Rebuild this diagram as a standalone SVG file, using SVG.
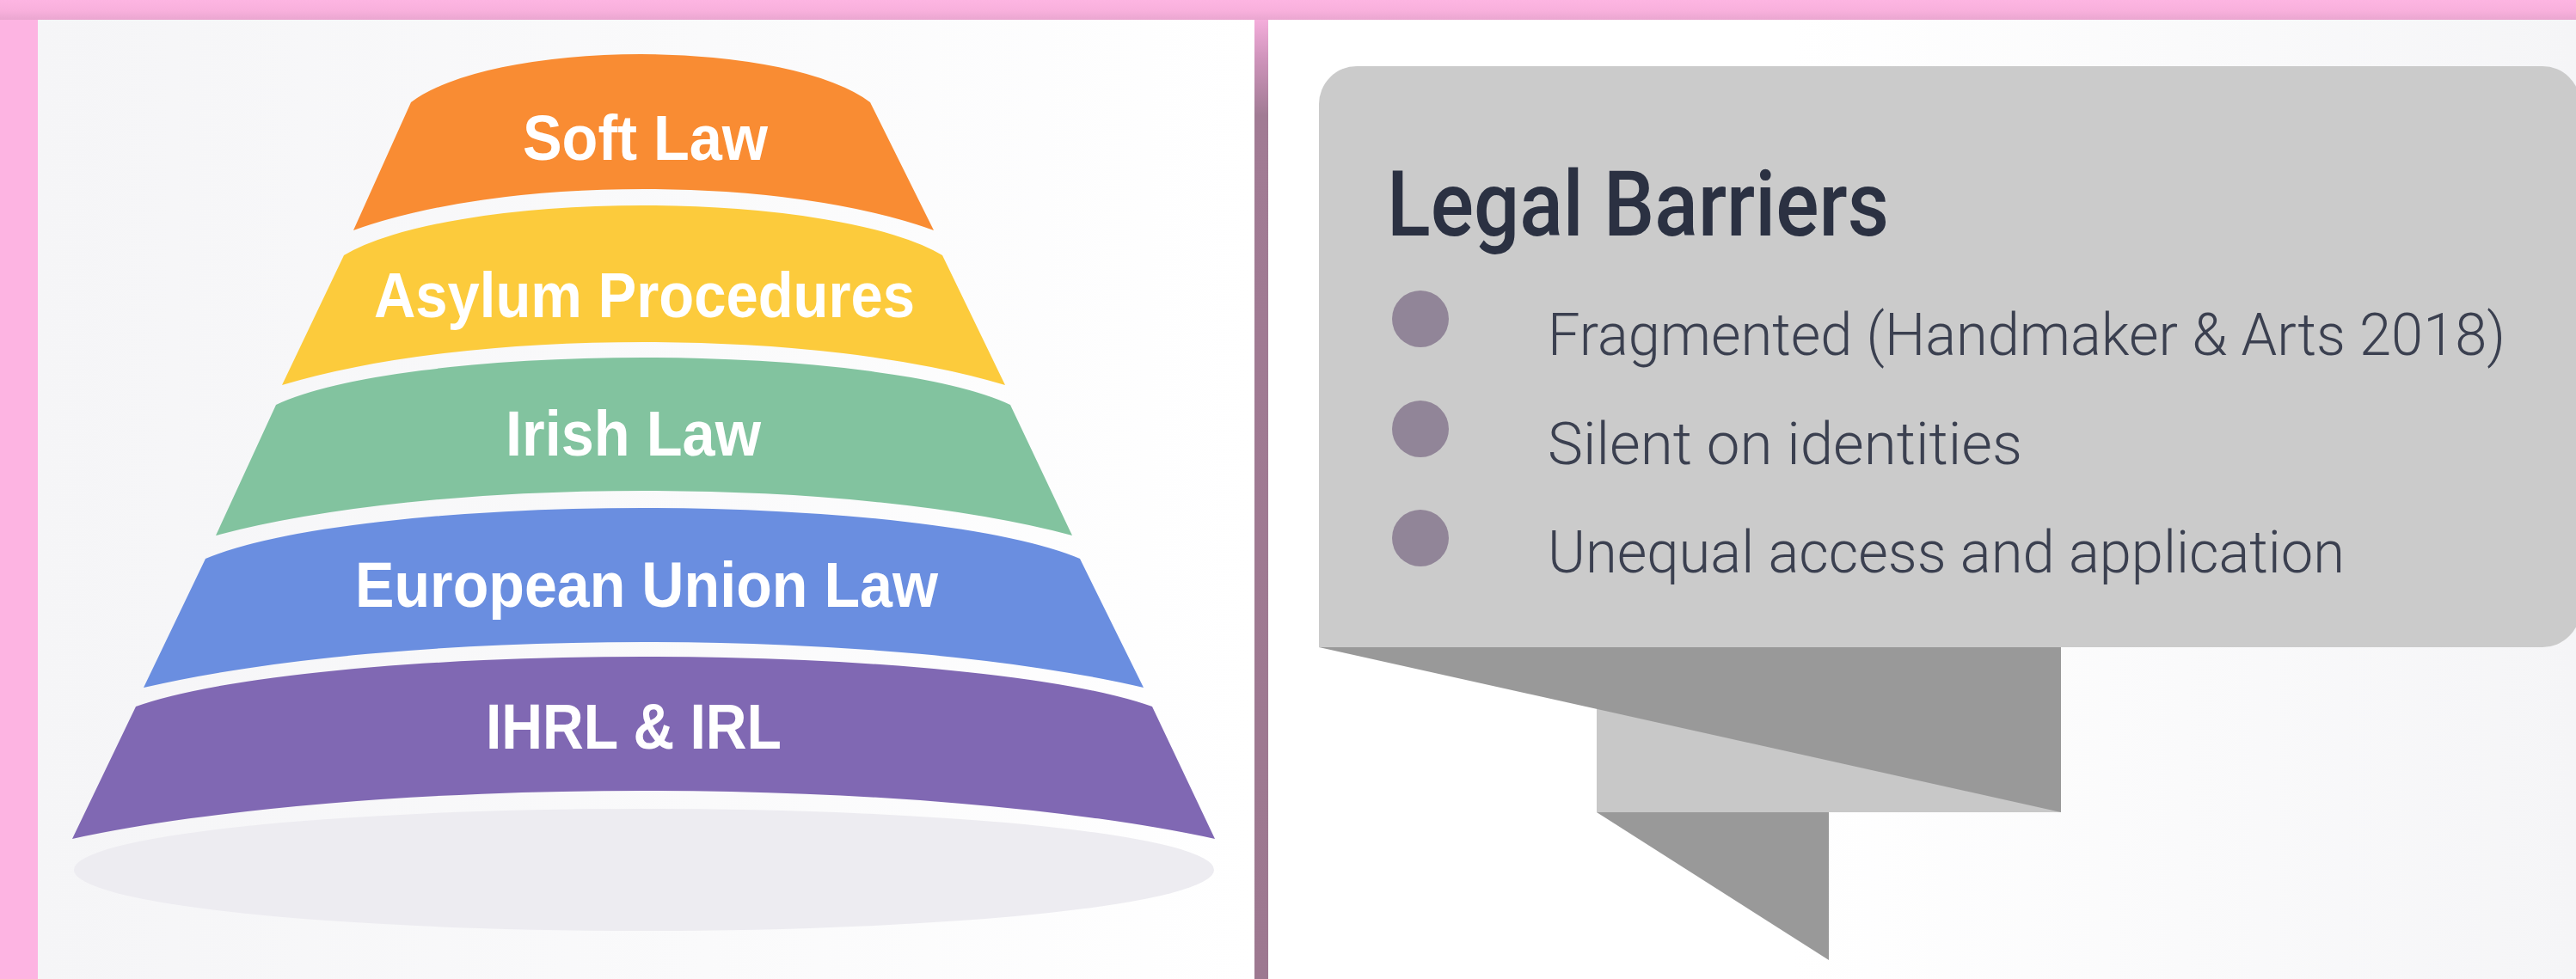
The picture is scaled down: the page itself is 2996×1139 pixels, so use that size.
<svg xmlns="http://www.w3.org/2000/svg" width="2996" height="1139" viewBox="0 0 2996 1139">
  <defs>
    <linearGradient id="topBand" x1="0" y1="0" x2="0" y2="1">
      <stop offset="0" stop-color="#fdb5e2"/>
      <stop offset="0.55" stop-color="#f8b0dc"/>
      <stop offset="1" stop-color="#eaa6d0"/>
    </linearGradient>
    <linearGradient id="leftPanel" x1="0" y1="0" x2="1" y2="0">
      <stop offset="0" stop-color="#f5f5f7"/>
      <stop offset="0.55" stop-color="#fafafb"/>
      <stop offset="1" stop-color="#ffffff"/>
    </linearGradient>
    <linearGradient id="rightPanel" x1="0" y1="0" x2="1" y2="0">
      <stop offset="0" stop-color="#ffffff"/>
      <stop offset="0.4" stop-color="#ffffff"/>
      <stop offset="1" stop-color="#f5f5f7"/>
    </linearGradient>
    <linearGradient id="divider" x1="0" y1="0" x2="0" y2="1">
      <stop offset="0" stop-color="#f4addb"/>
      <stop offset="0.04" stop-color="#cf94bb"/>
      <stop offset="0.1" stop-color="#a17b94"/>
      <stop offset="1" stop-color="#9d7890"/>
    </linearGradient>
    <style>
      .layer-label { font-family: "Liberation Sans", "Noto Sans", sans-serif; font-weight: 700; font-size: 74px; fill: #ffffff; }
      .title { font-family: Roboto, "Liberation Sans", sans-serif; font-weight: 500; font-size: 105px; fill: #2b3142; }
      .item { font-family: Roboto, "Liberation Sans", sans-serif; font-weight: 300; font-size: 68px; fill: #3b4050; }
      .bullet { fill: #918598; }
      .fold-dark { fill: #999999; }
      .fold-light { fill: #c8c8c8; }
    </style>
  </defs>

  <!-- frame and panels -->
  <rect x="0" y="0" width="2996" height="1139" fill="#fdb4e2"/>
  <rect x="0" y="0" width="2996" height="23" fill="url(#topBand)"/>
  <rect x="44" y="23" width="1415" height="1116" fill="url(#leftPanel)"/>
  <rect x="1459" y="23" width="16" height="1116" fill="url(#divider)"/>
  <rect x="1475" y="23" width="1521" height="1116" fill="url(#rightPanel)"/>

  <!-- pyramid: each band is a trapezoid with domed top and bottom edges -->
  <g id="pyramid">
    <ellipse id="pyramid-base" cx="749" cy="1012" rx="663" ry="71" fill="#edecf1"/>
    <g id="layer-ihrl">
      <path d="M84,976 L158,822 A636.5,92.2 0 0 1 1340,822 L1413,976 A863.9,155.4 0 0 0 84,976 Z" fill="#8068b3"/>
      <text class="layer-label" x="565" y="871" textLength="344" lengthAdjust="spacingAndGlyphs">IHRL &amp; IRL</text>
    </g>
    <g id="layer-eu">
      <path d="M167,800 L239,650 A547.7,93.8 0 0 1 1256,650 L1330,800 A756,147.1 0 0 0 167,800 Z" fill="#6a8ee0"/>
      <text class="layer-label" x="413" y="706" textLength="678" lengthAdjust="spacingAndGlyphs">European Union Law</text>
    </g>
    <g id="layer-irish">
      <path d="M251,623 L321,471 A459.9,87.5 0 0 1 1175,471 L1247,623 A647.4,144.3 0 0 0 251,623 Z" fill="#82c39f"/>
      <text class="layer-label" x="588" y="530" textLength="297" lengthAdjust="spacingAndGlyphs">Irish Law</text>
    </g>
    <g id="layer-asylum">
      <path d="M328,448 L400,297 A374.8,92.2 0 0 1 1096,297 L1169,448 A546.7,138.8 0 0 0 328,448 Z" fill="#fccb3c"/>
      <text class="layer-label" x="435" y="369" textLength="629" lengthAdjust="spacingAndGlyphs">Asylum Procedures</text>
    </g>
    <g id="layer-soft">
      <path d="M411,268 L478,119 A287.6,89 0 0 1 1012,119 L1086,268 A438.8,133.2 0 0 0 411,268 Z" fill="#f98c33"/>
      <text class="layer-label" x="608" y="186" textLength="285" lengthAdjust="spacingAndGlyphs">Soft Law</text>
    </g>
  </g>

  <!-- callout with folded ribbon tail -->
  <g id="legal-barriers">
    <rect class="fold-light" x="1857" y="753" width="540" height="192"/>
    <polygon class="fold-dark" points="1534,753 2397,753 2397,945"/>
    <polygon class="fold-dark" points="1857,945 2127,945 2127,1117"/>
    <path d="M1534,121 A44,44 0 0 1 1578,77 L2957,77 A44,44 0 0 1 3001,121 L3001,709 A44,44 0 0 1 2957,753 L1534,753 Z" fill="#cbcbcb"/>
    <text class="title" x="1613" y="274" textLength="584" lengthAdjust="spacingAndGlyphs">Legal Barriers</text>
    <circle class="bullet" cx="1652" cy="371" r="33"/>
    <text class="item" x="1800" y="413" textLength="1114" lengthAdjust="spacingAndGlyphs">Fragmented (Handmaker &amp; Arts 2018)</text>
    <circle class="bullet" cx="1652" cy="499" r="33"/>
    <text class="item" x="1800" y="540" textLength="552" lengthAdjust="spacingAndGlyphs">Silent on identities</text>
    <circle class="bullet" cx="1652" cy="626" r="33"/>
    <text class="item" x="1800" y="666" textLength="927" lengthAdjust="spacingAndGlyphs">Unequal access and application</text>
  </g>

  <g id="connectors"/>
</svg>
